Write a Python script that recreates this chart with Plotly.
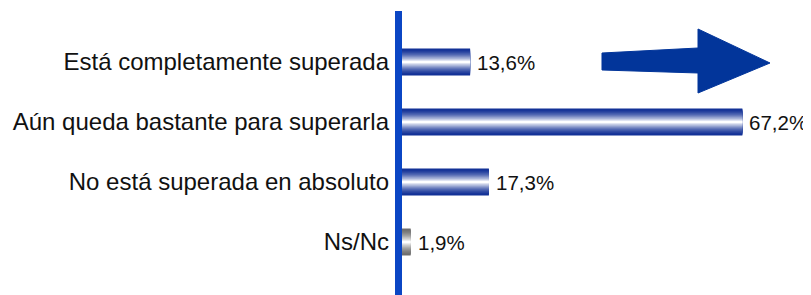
import plotly.graph_objects as go

categories = ["Está completamente superada", "Aún queda bastante para superarla",
              "No está superada en absoluto", "Ns/Nc"]
values = [13.6, 67.2, 17.3, 1.9]
value_labels = ["13,6%", "67,2%", "17,3%", "1,9%"]

W, H = 811, 295
OFF = 8  # page body margin
L, R, T, B = 393, 0, 24, 31
pw, ph = W - L - R, H - T - B
XMAX = pw / 5.08

def px_x(px):
    return (px - OFF - L) / pw

def px_y(py):
    return (H - B - (py - OFF)) / ph

def lerp(c1, c2, t):
    return "rgb({},{},{})".format(*[round(a + (b - a) * t) for a, b in zip(c1, c2)])

blue_dark = (18, 48, 150)
gray_dark = (110, 110, 110)
white = (255, 255, 255)

fig = go.Figure()
N = 16
bw = 0.45
for k in range(N):
    t = (k / (N - 1)) ** 1.6
    w = bw * (1 - k / N)
    cols = [lerp(blue_dark, white, t)] * 3 + [lerp(gray_dark, white, t)]
    fig.add_trace(go.Bar(
        y=categories, x=values, orientation="h", width=w,
        marker=dict(color=cols, line=dict(width=0)),
        hoverinfo="skip", showlegend=False,
    ))

for c, v, lab in zip(categories, values, value_labels):
    fig.add_annotation(x=v, y=c, text=lab, showarrow=False, xanchor="left",
                       xshift=5, font=dict(size=20.5, color="#111"))

# axis line
fig.add_shape(type="line", xref="paper", yref="paper",
              x0=px_x(398.5), x1=px_x(398.5), y0=px_y(11), y1=px_y(300),
              line=dict(color="#0b46c4", width=7), layer="above")

# arrow
pts = [(602, 53), (698, 48), (698, 29), (770, 63), (698, 93), (698, 73), (602, 70)]
path = "M " + " L ".join(f"{px_x(x):.5f} {px_y(y):.5f}" for x, y in pts) + " Z"
fig.add_shape(type="path", xref="paper", yref="paper", path=path,
              fillcolor="#02359a", line=dict(color="#02359a", width=1))

fig.update_layout(
    width=W, height=H, barmode="overlay",
    margin=dict(l=L, r=R, t=T, b=B, autoexpand=False),
    paper_bgcolor="white", plot_bgcolor="white",
    font=dict(family="Liberation Sans, Arial, sans-serif", size=24, color="#111"),
    xaxis=dict(range=[0, XMAX], visible=False, fixedrange=True),
    yaxis=dict(categoryorder="array", categoryarray=categories, autorange="reversed",
               showline=False, showgrid=False, zeroline=False, ticks="",
               ticklabelstandoff=11, tickfont=dict(size=24, color="#111")),
)
fig.write_html("out.html")
